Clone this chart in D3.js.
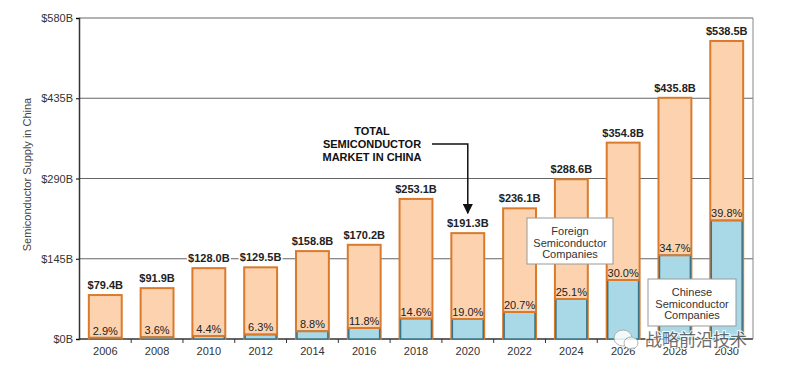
<!DOCTYPE html>
<html>
<head>
<meta charset="utf-8">
<script src="https://cdn.jsdelivr.net/npm/d3@7"></script>
<style>
  body { margin: 0; background: #fff; }
  svg { font-family: "Liberation Sans", Arial, sans-serif; }
</style>
</head>
<body>
<div id="chart"></div>
<script>
// chart values
var years = ["2006","2008","2010","2012","2014","2016","2018","2020","2022","2024","2026","2028","2030"]
  , totals = [79.4, 91.9, 128.0, 129.5, 158.8, 170.2, 253.1, 191.3, 236.1, 288.6, 354.8, 435.8, 538.5]
  , chineseShare = [2.9, 3.6, 4.4, 6.3, 8.8, 11.8, 14.6, 19.0, 20.7, 25.1, 30.0, 34.7, 39.8]
  , yTicks = [0, 145, 290, 435, 580]
  , annotation = ["TOTAL", "SEMICONDUCTOR", "MARKET IN CHINA"]
  , foreignLabel = ["Foreign", "Semiconductor", "Companies"]
  , chineseLabel = ["Chinese", "Semiconductor", "Companies"];

var width = 788
  , height = 376
  , plotLeft = 79
  , plotRight = 753
  , plotTop = 18
  , plotBottom = 339
  , orange = "#d97a2c"
  , peach = "#fcd3ae"
  , blue = "#a9d9e7"
  , teal = "#3b7487";

var rows = years.map(function(y, i){
  return {year: y, total: totals[i], pct: chineseShare[i], china: totals[i]*chineseShare[i]/100};
});

var svg = d3.select("#chart").append("svg")
  .attr("width", width)
  .attr("height", height);

var x = d3.scaleBand()
  .domain(years)
  .range([plotLeft, plotRight])
  .paddingInner(0.365)
  .paddingOuter(0.19);

var y = d3.scaleLinear()
  .domain([0, 580])
  .range([plotBottom, plotTop]);

// grid lines
svg.append("g").selectAll("line")
  .data(yTicks)
 .enter().append("line")
  .attr("x1", plotLeft)
  .attr("x2", plotRight)
  .attr("y1", d => y(d))
  .attr("y2", d => y(d))
  .attr("stroke", d => d == 0 ? "#333" : "#666")
  .attr("stroke-width", d => d == 0 ? 1.5 : 1);

// right frame
svg.append("line")
  .attr("x1", plotRight).attr("x2", plotRight)
  .attr("y1", plotTop).attr("y2", plotBottom)
  .attr("stroke", "#888");

// y axis
var yAxis = svg.append("g")
  .attr("transform", "translate(" + plotLeft + ",0)")
  .call(d3.axisLeft(y).tickValues(yTicks).tickSize(3).tickFormat(d => "$" + d + "B"));
yAxis.select(".domain").attr("stroke", "#333").attr("stroke-width", 1.5);
yAxis.selectAll("text").attr("font-size", 11).attr("fill", "#333")
  .attr("font-family", "Liberation Sans, Arial, sans-serif");

svg.append("text")
  .attr("transform", "translate(31," + ((plotTop + plotBottom)/2 - 4) + ") rotate(-90)")
  .attr("text-anchor", "middle")
  .attr("font-size", 11)
  .attr("fill", "#444")
  .text("Semiconductor Supply in China");

// x axis
var xAxis = svg.append("g")
  .attr("transform", "translate(0," + plotBottom + ")")
  .call(d3.axisBottom(x).tickSize(0).tickPadding(8));
xAxis.select(".domain").remove();
xAxis.selectAll("text").attr("font-size", 11).attr("fill", "#333")
  .attr("font-family", "Liberation Sans, Arial, sans-serif");

// small ticks between categories
svg.append("g").selectAll("line")
  .data(years.slice(1))
 .enter().append("line")
  .attr("x1", d => x(d) - x.step()*x.paddingInner()/2)
  .attr("x2", d => x(d) - x.step()*x.paddingInner()/2)
  .attr("y1", plotBottom)
  .attr("y2", plotBottom + 4)
  .attr("stroke", "#333");

// bars
var bars = svg.append("g").selectAll("g")
  .data(rows)
 .enter().append("g");

bars.append("rect")
  .attr("x", d => x(d.year))
  .attr("y", d => y(d.total))
  .attr("width", x.bandwidth())
  .attr("height", d => plotBottom - y(d.total))
  .attr("fill", peach)
  .attr("stroke", orange)
  .attr("stroke-width", 2);

bars.append("rect")
  .attr("x", d => x(d.year) + 1)
  .attr("y", d => y(d.china))
  .attr("width", x.bandwidth() - 2)
  .attr("height", d => plotBottom - y(d.china))
  .attr("fill", blue)
  .attr("stroke", teal)
  .attr("stroke-width", 1.5);

bars.append("line")
  .attr("x1", d => x(d.year))
  .attr("x2", d => x(d.year) + x.bandwidth())
  .attr("y1", d => y(d.china))
  .attr("y2", d => y(d.china))
  .attr("stroke", orange)
  .attr("stroke-width", 2);

// total labels with white backing
bars.append("rect")
  .attr("x", d => x(d.year) + x.bandwidth()/2 - 22)
  .attr("y", d => y(d.total) - 17)
  .attr("width", 44)
  .attr("height", 13)
  .attr("fill", "#fff");

bars.append("text")
  .attr("x", d => x(d.year) + x.bandwidth()/2)
  .attr("y", d => y(d.total) - 6)
  .attr("text-anchor", "middle")
  .attr("font-size", 11)
  .attr("font-weight", "bold")
  .attr("fill", "#222")
  .text(d => "$" + d.total.toFixed(1) + "B");

// percentage labels
bars.append("text")
  .attr("x", d => x(d.year) + x.bandwidth()/2)
  .attr("y", d => y(d.china) - 3)
  .attr("text-anchor", "middle")
  .attr("font-size", 11)
  .attr("fill", "#222")
  .text(d => d.pct.toFixed(1) + "%");

// annotation
var ann = svg.append("text")
  .attr("text-anchor", "middle")
  .attr("font-size", 11)
  .attr("font-weight", "bold")
  .attr("fill", "#111");
ann.selectAll("tspan")
  .data(annotation)
 .enter().append("tspan")
  .attr("x", 372)
  .attr("y", (d, i) => 135 + i*13)
  .text(d => d);

var arrowX = x("2020") + x.bandwidth()/2;
svg.append("defs").append("marker")
  .attr("id", "arrow")
  .attr("viewBox", "0 0 10 10")
  .attr("refX", 9).attr("refY", 5)
  .attr("markerWidth", 7).attr("markerHeight", 7)
  .attr("orient", "auto")
 .append("path")
  .attr("d", "M0,0 L10,5 L0,10 z")
  .attr("fill", "#111");

svg.append("path")
  .attr("d", "M432,144 L" + arrowX + ",144 L" + arrowX + "," + (y(191.3) - 20))
  .attr("fill", "none")
  .attr("stroke", "#111")
  .attr("stroke-width", 1.5)
  .attr("marker-end", "url(#arrow)");

// legend boxes
function labelBox(lines, bx, by, bw, bh){
  svg.append("rect")
    .attr("x", bx).attr("y", by)
    .attr("width", bw).attr("height", bh)
    .attr("fill", "#fff")
    .attr("stroke", "#999");
  svg.append("text")
    .attr("text-anchor", "middle")
    .attr("font-size", 11)
    .attr("fill", "#333")
   .selectAll("tspan")
    .data(lines)
   .enter().append("tspan")
    .attr("x", bx + bw/2)
    .attr("y", (d, i) => by + 17 + i*11.5)
    .text(d => d);
}
labelBox(foreignLabel, 527, 218, 86, 46);
labelBox(chineseLabel, 648, 279, 88, 47);

// watermark
var wm = svg.append("g").attr("opacity", 0.85);
wm.append("ellipse").attr("cx", 623).attr("cy", 338).attr("rx", 9).attr("ry", 8)
  .attr("fill", "#fff").attr("stroke", "#aaa");
wm.append("ellipse").attr("cx", 631).attr("cy", 343).attr("rx", 7).attr("ry", 6)
  .attr("fill", "#fff").attr("stroke", "#aaa");
wm.append("text")
  .attr("x", 645).attr("y", 346)
  .attr("font-family", "Noto Sans CJK SC")
  .attr("font-size", 17)
  .attr("fill", "#555")
  .attr("stroke", "#fff")
  .attr("stroke-width", 2)
  .attr("paint-order", "stroke")
  .text("战略前沿技术");
</script>
</body>
</html>
